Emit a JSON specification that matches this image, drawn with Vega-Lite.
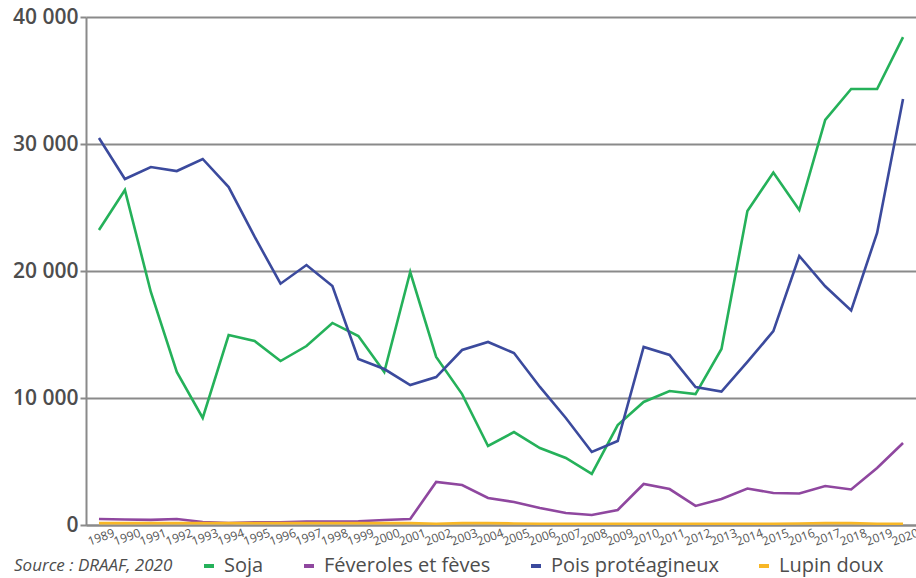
{
  "$schema": "https://vega.github.io/schema/vega-lite/v6.json",
  "width": 830,
  "height": 508,
  "autosize": {"type": "none"},
  "padding": {"left": 86, "top": 17, "right": 0, "bottom": 53},
  "background": "white",
  "datasets": {
    "prod": [
      {"annee": "1989", "culture": "Soja", "valeur": 23230}, {"annee": "1989", "culture": "Féveroles et fèves", "valeur": 470}, {"annee": "1989", "culture": "Pois protéagineux", "valeur": 30470}, {"annee": "1989", "culture": "Lupin doux", "valeur": 150},
      {"annee": "1990", "culture": "Soja", "valeur": 26380}, {"annee": "1990", "culture": "Féveroles et fèves", "valeur": 430}, {"annee": "1990", "culture": "Pois protéagineux", "valeur": 27240}, {"annee": "1990", "culture": "Lupin doux", "valeur": 150},
      {"annee": "1991", "culture": "Soja", "valeur": 18350}, {"annee": "1991", "culture": "Féveroles et fèves", "valeur": 400}, {"annee": "1991", "culture": "Pois protéagineux", "valeur": 28190}, {"annee": "1991", "culture": "Lupin doux", "valeur": 150},
      {"annee": "1992", "culture": "Soja", "valeur": 12050}, {"annee": "1992", "culture": "Féveroles et fèves", "valeur": 470}, {"annee": "1992", "culture": "Pois protéagineux", "valeur": 27870}, {"annee": "1992", "culture": "Lupin doux", "valeur": 150},
      {"annee": "1993", "culture": "Soja", "valeur": 8430}, {"annee": "1993", "culture": "Féveroles et fèves", "valeur": 240}, {"annee": "1993", "culture": "Pois protéagineux", "valeur": 28820}, {"annee": "1993", "culture": "Lupin doux", "valeur": 150},
      {"annee": "1994", "culture": "Soja", "valeur": 14960}, {"annee": "1994", "culture": "Féveroles et fèves", "valeur": 160}, {"annee": "1994", "culture": "Pois protéagineux", "valeur": 26610}, {"annee": "1994", "culture": "Lupin doux", "valeur": 150},
      {"annee": "1995", "culture": "Soja", "valeur": 14490}, {"annee": "1995", "culture": "Féveroles et fèves", "valeur": 220}, {"annee": "1995", "culture": "Pois protéagineux", "valeur": 22700}, {"annee": "1995", "culture": "Lupin doux", "valeur": 150},
      {"annee": "1996", "culture": "Soja", "valeur": 12910}, {"annee": "1996", "culture": "Féveroles et fèves", "valeur": 220}, {"annee": "1996", "culture": "Pois protéagineux", "valeur": 19000}, {"annee": "1996", "culture": "Lupin doux", "valeur": 150},
      {"annee": "1997", "culture": "Soja", "valeur": 14090}, {"annee": "1997", "culture": "Féveroles et fèves", "valeur": 270}, {"annee": "1997", "culture": "Pois protéagineux", "valeur": 20470}, {"annee": "1997", "culture": "Lupin doux", "valeur": 150},
      {"annee": "1998", "culture": "Soja", "valeur": 15910}, {"annee": "1998", "culture": "Féveroles et fèves", "valeur": 270}, {"annee": "1998", "culture": "Pois protéagineux", "valeur": 18820}, {"annee": "1998", "culture": "Lupin doux", "valeur": 150},
      {"annee": "1999", "culture": "Soja", "valeur": 14880}, {"annee": "1999", "culture": "Féveroles et fèves", "valeur": 300}, {"annee": "1999", "culture": "Pois protéagineux", "valeur": 13070}, {"annee": "1999", "culture": "Lupin doux", "valeur": 150},
      {"annee": "2000", "culture": "Soja", "valeur": 12050}, {"annee": "2000", "culture": "Féveroles et fèves", "valeur": 390}, {"annee": "2000", "culture": "Pois protéagineux", "valeur": 12280}, {"annee": "2000", "culture": "Lupin doux", "valeur": 150},
      {"annee": "2001", "culture": "Soja", "valeur": 19920}, {"annee": "2001", "culture": "Féveroles et fèves", "valeur": 470}, {"annee": "2001", "culture": "Pois protéagineux", "valeur": 11020}, {"annee": "2001", "culture": "Lupin doux", "valeur": 150},
      {"annee": "2002", "culture": "Soja", "valeur": 13230}, {"annee": "2002", "culture": "Féveroles et fèves", "valeur": 3390}, {"annee": "2002", "culture": "Pois protéagineux", "valeur": 11650}, {"annee": "2002", "culture": "Lupin doux", "valeur": 100},
      {"annee": "2003", "culture": "Soja", "valeur": 10310}, {"annee": "2003", "culture": "Féveroles et fèves", "valeur": 3150}, {"annee": "2003", "culture": "Pois protéagineux", "valeur": 13780}, {"annee": "2003", "culture": "Lupin doux", "valeur": 150},
      {"annee": "2004", "culture": "Soja", "valeur": 6220}, {"annee": "2004", "culture": "Féveroles et fèves", "valeur": 2130}, {"annee": "2004", "culture": "Pois protéagineux", "valeur": 14410}, {"annee": "2004", "culture": "Lupin doux", "valeur": 150},
      {"annee": "2005", "culture": "Soja", "valeur": 7320}, {"annee": "2005", "culture": "Féveroles et fèves", "valeur": 1810}, {"annee": "2005", "culture": "Pois protéagineux", "valeur": 13540}, {"annee": "2005", "culture": "Lupin doux", "valeur": 120},
      {"annee": "2006", "culture": "Soja", "valeur": 6060}, {"annee": "2006", "culture": "Féveroles et fèves", "valeur": 1340}, {"annee": "2006", "culture": "Pois protéagineux", "valeur": 10870}, {"annee": "2006", "culture": "Lupin doux", "valeur": 100},
      {"annee": "2007", "culture": "Soja", "valeur": 5280}, {"annee": "2007", "culture": "Féveroles et fèves", "valeur": 950}, {"annee": "2007", "culture": "Pois protéagineux", "valeur": 8430}, {"annee": "2007", "culture": "Lupin doux", "valeur": 100},
      {"annee": "2008", "culture": "Soja", "valeur": 4020}, {"annee": "2008", "culture": "Féveroles et fèves", "valeur": 790}, {"annee": "2008", "culture": "Pois protéagineux", "valeur": 5750}, {"annee": "2008", "culture": "Lupin doux", "valeur": 100},
      {"annee": "2009", "culture": "Soja", "valeur": 7870}, {"annee": "2009", "culture": "Féveroles et fèves", "valeur": 1180}, {"annee": "2009", "culture": "Pois protéagineux", "valeur": 6610}, {"annee": "2009", "culture": "Lupin doux", "valeur": 100},
      {"annee": "2010", "culture": "Soja", "valeur": 9690}, {"annee": "2010", "culture": "Féveroles et fèves", "valeur": 3230}, {"annee": "2010", "culture": "Pois protéagineux", "valeur": 14020}, {"annee": "2010", "culture": "Lupin doux", "valeur": 100},
      {"annee": "2011", "culture": "Soja", "valeur": 10550}, {"annee": "2011", "culture": "Féveroles et fèves", "valeur": 2830}, {"annee": "2011", "culture": "Pois protéagineux", "valeur": 13390}, {"annee": "2011", "culture": "Lupin doux", "valeur": 100},
      {"annee": "2012", "culture": "Soja", "valeur": 10310}, {"annee": "2012", "culture": "Féveroles et fèves", "valeur": 1500}, {"annee": "2012", "culture": "Pois protéagineux", "valeur": 10870}, {"annee": "2012", "culture": "Lupin doux", "valeur": 100},
      {"annee": "2013", "culture": "Soja", "valeur": 13860}, {"annee": "2013", "culture": "Féveroles et fèves", "valeur": 2050}, {"annee": "2013", "culture": "Pois protéagineux", "valeur": 10510}, {"annee": "2013", "culture": "Lupin doux", "valeur": 100},
      {"annee": "2014", "culture": "Soja", "valeur": 24720}, {"annee": "2014", "culture": "Féveroles et fèves", "valeur": 2870}, {"annee": "2014", "culture": "Pois protéagineux", "valeur": 12840}, {"annee": "2014", "culture": "Lupin doux", "valeur": 100},
      {"annee": "2015", "culture": "Soja", "valeur": 27760}, {"annee": "2015", "culture": "Féveroles et fèves", "valeur": 2520}, {"annee": "2015", "culture": "Pois protéagineux", "valeur": 15260}, {"annee": "2015", "culture": "Lupin doux", "valeur": 100},
      {"annee": "2016", "culture": "Soja", "valeur": 24800}, {"annee": "2016", "culture": "Féveroles et fèves", "valeur": 2480}, {"annee": "2016", "culture": "Pois protéagineux", "valeur": 21180}, {"annee": "2016", "culture": "Lupin doux", "valeur": 120},
      {"annee": "2017", "culture": "Soja", "valeur": 31890}, {"annee": "2017", "culture": "Féveroles et fèves", "valeur": 3070}, {"annee": "2017", "culture": "Pois protéagineux", "valeur": 18800}, {"annee": "2017", "culture": "Lupin doux", "valeur": 150},
      {"annee": "2018", "culture": "Soja", "valeur": 34330}, {"annee": "2018", "culture": "Féveroles et fèves", "valeur": 2800}, {"annee": "2018", "culture": "Pois protéagineux", "valeur": 16900}, {"annee": "2018", "culture": "Lupin doux", "valeur": 150},
      {"annee": "2019", "culture": "Soja", "valeur": 34330}, {"annee": "2019", "culture": "Féveroles et fèves", "valeur": 4490}, {"annee": "2019", "culture": "Pois protéagineux", "valeur": 23000}, {"annee": "2019", "culture": "Lupin doux", "valeur": 100},
      {"annee": "2020", "culture": "Soja", "valeur": 38420}, {"annee": "2020", "culture": "Féveroles et fèves", "valeur": 6460}, {"annee": "2020", "culture": "Pois protéagineux", "valeur": 33540}, {"annee": "2020", "culture": "Lupin doux", "valeur": 100}
    ]
  },
  "data": {"name": "prod"},
  "mark": {"type": "line", "strokeWidth": 2.6},
  "encoding": {
    "x": {
      "field": "annee",
      "type": "ordinal",
      "scale": {"type": "point", "padding": 0.5},
      "axis": {
        "title": null,
        "ticks": false,
        "grid": false,
        "labelAngle": -20,
        "labelAlign": "center",
        "labelBaseline": "top",
        "labelFont": "Open Sans",
        "labelFontSize": 12,
        "labelColor": "#555555",
        "labelPadding": 7,
        "labelOverlap": false,
        "labelBound": false,
        "domainColor": "#8a8a8a",
        "domainWidth": 2
      }
    },
    "y": {
      "field": "valeur",
      "type": "quantitative",
      "scale": {"domain": [0, 40000], "nice": false},
      "axis": {
        "title": null,
        "values": [0, 10000, 20000, 30000, 40000],
        "labelExpr": "replace(format(datum.value, ','), ',', ' ')",
        "grid": true,
        "gridColor": "#8a8a8a",
        "gridWidth": 2,
        "domainColor": "#8a8a8a",
        "domainWidth": 2,
        "tickColor": "#8a8a8a",
        "tickWidth": 2,
        "tickSize": 6,
        "labelFont": "Open Sans",
        "labelFontSize": 21,
        "labelFontWeight": 600,
        "labelColor": "#4d4d4d",
        "labelPadding": 2
      }
    },
    "color": {
      "field": "culture",
      "type": "nominal",
      "scale": {
        "domain": ["Soja", "Féveroles et fèves", "Pois protéagineux", "Lupin doux"],
        "range": ["#25b15a", "#8f479f", "#3b4a9d", "#f8b726"]
      },
      "legend": {
        "orient": "none",
        "legendX": -72,
        "legendY": 539,
        "direction": "horizontal",
        "title": "Source : DRAAF, 2020",
        "titleOrient": "left",
        "titleFont": "Open Sans",
        "titleFontSize": 17,
        "titleFontStyle": "italic",
        "titleFontWeight": 500,
        "titleColor": "#4d4d4d",
        "titlePadding": 26,
        "titleBaseline": "middle",
        "titleLimit": 300,
        "symbolType": "stroke",
        "symbolSize": 100,
        "symbolStrokeWidth": 4,
        "labelFont": "Open Sans",
        "labelFontSize": 20,
        "labelFontWeight": 500,
        "labelColor": "#4d4d4d",
        "labelOffset": 5,
        "labelLimit": 400,
        "columnPadding": 32,
        "padding": 0
      }
    }
  },
  "config": {"view": {"stroke": null}}
}
